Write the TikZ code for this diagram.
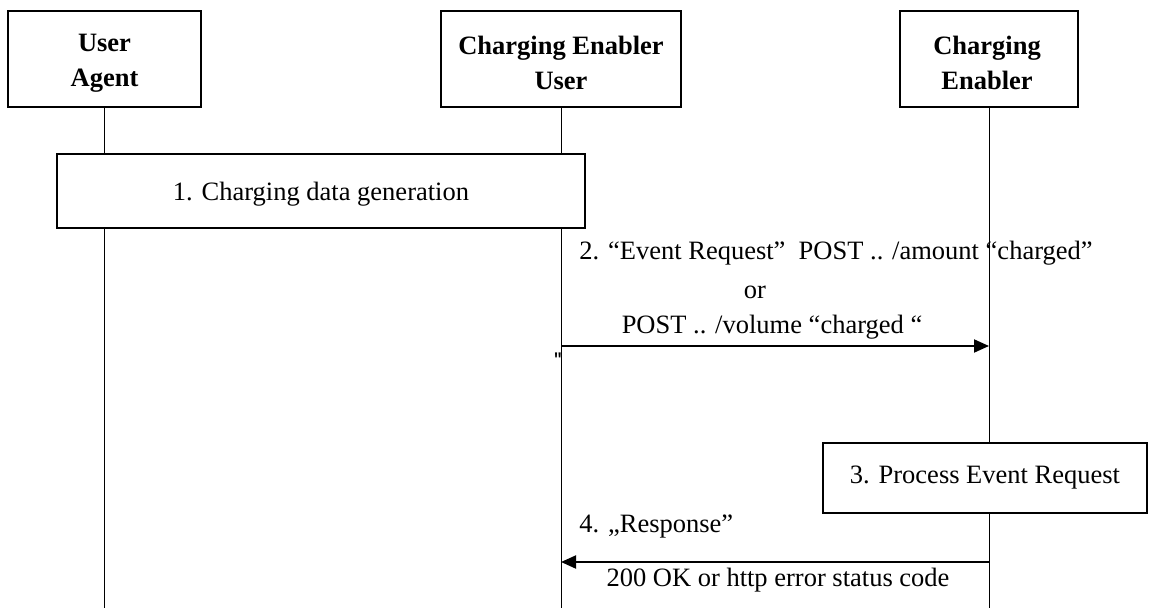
\documentclass[tikz,border=0pt]{standalone}
\usepackage{fontspec}
\setmainfont{Liberation Serif}
\newfontfamily\monoq{Liberation Mono}
\usetikzlibrary{arrows.meta}
\begin{document}
\begin{tikzpicture}[x=0.5pt,y=-0.5pt,
  every node/.style={font=\fontsize{13.25}{17.5}\selectfont},
  actor/.style={draw,line width=0.8pt,minimum height=48pt,inner sep=0pt},
  actortext/.style={align=center,inner sep=0pt,font=\fontsize{13.25}{17.5}\selectfont\bfseries},
  procbox/.style={draw,line width=0.8pt,inner sep=0pt},
  life/.style={line width=0.5pt},
  msg/.style={line width=1pt,-{Triangle[length=7.5pt,width=6.5pt]}},
  lbl/.style={inner sep=0pt}]
\useasboundingbox (0,0) rectangle (1149,608);
% actors
\node[actor,minimum width=96.5pt] (ua) at (104.5,59) {};
\node[actortext] (uat) at (104.5,63) {User\\Agent};
\node[actor,minimum width=120pt] (ceu) at (561,59) {};
\node[actortext] (ceut) at (561,63) {Charging Enabler\\User};
\node[actor,minimum width=89pt] (ce) at (989,59) {};
\node[actortext] (cet) at (987,63) {Charging\\Enabler};
% process boxes
\node[procbox,minimum width=264pt,minimum height=37pt] (gen) at (321,191) {};
\node[lbl] (gent) at (321,194) {1. Charging data generation};
\node[procbox,minimum width=162pt,minimum height=35pt] (proc) at (985,478) {};
\node[lbl] (proct) at (985,478) {3. Process Event Request};
% bottom coordinates
\coordinate (uaend) at (104.5,608);
\coordinate (ceuend) at (561,608);
\coordinate (ceend) at (989,608);
% lifelines
\draw[life] (ua.south) -- (ua.south |- gen.north);
\draw[life] (ua.south |- gen.south) -- (uaend);
\draw[life] (ceu.south) -- (ceu.south |- gen.north);
\draw[life] (ceu.south |- gen.south) -- (ceuend);
\draw[life] (ce.south) -- (ce.south |- proc.north);
\draw[life] (ce.south |- proc.south) -- (ceend);
% message 2
\coordinate (m2a) at (561,346);
\coordinate (m2b) at (989,346);
\draw[msg] (m2a) -- (m2b);
\node[lbl] (t2a) at (836,253) {2. “Event Request”~ POST .. /amount “charged”};
\node[lbl] (t2b) at (755,292) {or};
\node[lbl] (t2c) at (772,327) {POST .. /volume “charged “};
\node[lbl,anchor=north,font=\fontsize{8}{9}\selectfont\monoq\bfseries] (tick) at (558,352) {"};
% message 4
\coordinate (m4a) at (989,562);
\coordinate (m4b) at (561,562);
\draw[msg] (m4a) -- (m4b);
\node[lbl,anchor=west] (t4a) at (579,527) {4. „Response”};
\node[lbl] (t4b) at (778,580) {200 OK or http error status code};
\end{tikzpicture}
\end{document}
